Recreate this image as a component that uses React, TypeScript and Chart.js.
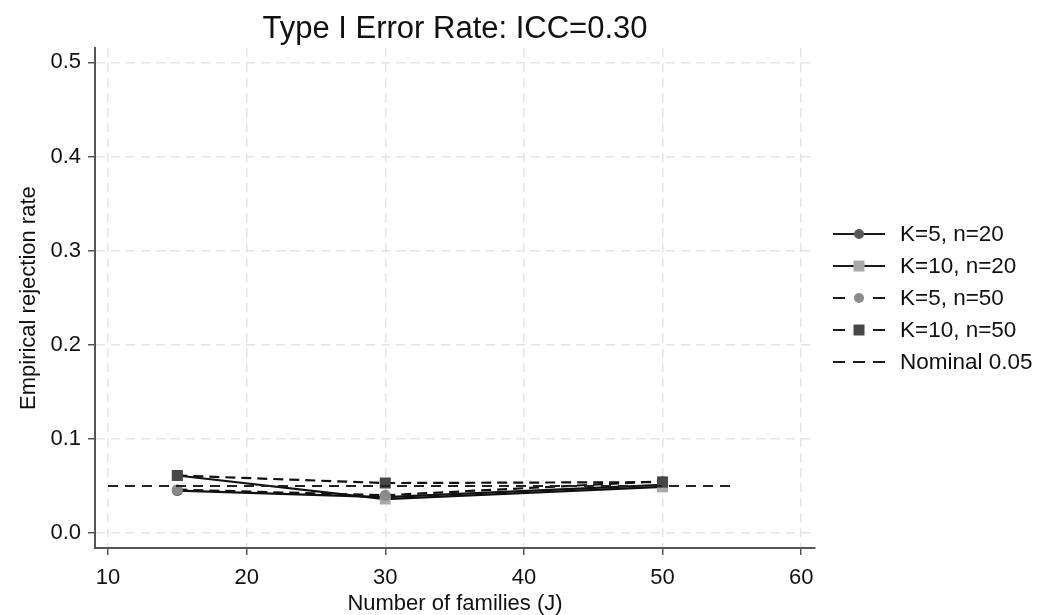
import React, { useEffect, useRef } from 'react';
import { Chart, registerables } from 'chart.js';

Chart.register(...registerables);

const FONT = '"Liberation Sans", Arial, Helvetica, sans-serif';

// ---- Data ----
const xValues = [15, 30, 50];
const seriesLabels = ['K=5, n=20', 'K=10, n=20', 'K=5, n=50', 'K=10, n=50'];
const k5n20 = [0.045, 0.038, 0.051];
const k10n20 = [0.061, 0.036, 0.049];
const k5n50 = [0.046, 0.040, 0.055];
const k10n50 = [0.061, 0.053, 0.054];
const nominalX = [10, 55];
const nominalValue = 0.05;
const nominalLabel = 'Nominal 0.05';
const xTicks = [10, 20, 30, 40, 50, 60];
const yTicks = [0, 0.1, 0.2, 0.3, 0.4, 0.5];
const titleText = 'Type I Error Rate: ICC=0.30';
const xTitle = 'Number of families (J)';
const yTitle = 'Empirical rejection rate';

const seriesValues = [k5n20, k10n20, k5n50, k10n50];
const seriesStyles = [
  { marker: 'circle', color: '#5a5a5a', dashed: false },
  { marker: 'rect', color: '#a8a8a8', dashed: false },
  { marker: 'circle', color: '#8a8a8a', dashed: true },
  { marker: 'rect', color: '#474747', dashed: true },
];

const legendPlugin = {
  id: 'customLegend',
  afterDraw(chart: any) {
    const ctx = chart.ctx as CanvasRenderingContext2D;
    const x0 = 833, x1 = 885, xm = 859, tx = 900;
    const y0 = 234, step = 32;
    ctx.save();
    ctx.font = `22.5px ${FONT}`;
    ctx.textBaseline = 'middle';
    ctx.textAlign = 'left';
    const rows = seriesLabels.length + 1;
    for (let i = 0; i < rows; i++) {
      const y = y0 + i * step;
      ctx.strokeStyle = '#1a1a1a';
      ctx.lineWidth = 2;
      ctx.setLineDash([]);
      ctx.beginPath();
      if (i < seriesLabels.length) {
        const st = seriesStyles[i];
        if (st.dashed) {
          ctx.moveTo(x0, y); ctx.lineTo(x0 + 12, y);
          ctx.moveTo(x1 - 12, y); ctx.lineTo(x1, y);
        } else {
          ctx.moveTo(x0, y); ctx.lineTo(x1, y);
        }
        ctx.stroke();
        ctx.fillStyle = st.color;
        ctx.beginPath();
        if (st.marker === 'circle') {
          ctx.arc(xm, y, 5, 0, Math.PI * 2);
        } else {
          ctx.rect(xm - 5.5, y - 5.5, 11, 11);
        }
        ctx.fill();
        ctx.fillStyle = '#111';
        ctx.fillText(seriesLabels[i], tx, y + 1);
      } else {
        ctx.moveTo(x0, y); ctx.lineTo(x0 + 12, y);
        ctx.moveTo(x0 + 20, y); ctx.lineTo(x0 + 32, y);
        ctx.moveTo(x1 - 12, y); ctx.lineTo(x1, y);
        ctx.stroke();
        ctx.fillStyle = '#111';
        ctx.fillText(nominalLabel, tx, y + 1);
      }
    }
    ctx.restore();
  },
};

export default function App() {
  const canvasRef = useRef<HTMLCanvasElement | null>(null);

  useEffect(() => {
    const canvas = canvasRef.current;
    if (!canvas) return;
    const datasets: any[] = seriesValues.map((vals, i) => ({
      label: seriesLabels[i],
      data: xValues.map((x, j) => ({ x, y: vals[j] })),
      borderColor: '#111111',
      borderWidth: 2.2,
      borderDash: seriesStyles[i].dashed ? [10, 6] : [],
      pointStyle: seriesStyles[i].marker,
      pointRadius: seriesStyles[i].marker === 'rect' ? 7.8 : 5.5,
      pointBackgroundColor: seriesStyles[i].color,
      pointBorderColor: seriesStyles[i].color,
      pointBorderWidth: 0,
      tension: 0,
      fill: false,
      order: 4 - i,
    }));
    datasets.push({
      label: nominalLabel,
      data: nominalX.map((x) => ({ x, y: nominalValue })),
      borderColor: '#222222',
      borderWidth: 2,
      borderDash: [10, 7],
      pointRadius: 0,
      fill: false,
      order: 0,
    });

    const chart = new Chart(canvas, {
      type: 'line',
      data: { datasets },
      plugins: [legendPlugin],
      options: {
        animation: false,
        responsive: false,
        devicePixelRatio: 1,
        layout: { padding: { left: 0, right: 222, top: 0, bottom: 0 } },
        plugins: {
          legend: { display: false },
          tooltip: { enabled: false },
          title: {
            display: true,
            text: titleText,
            fullSize: false,
            color: '#111',
            font: { family: FONT, size: 31, weight: 'normal', lineHeight: 1.2 },
            padding: { top: 11, bottom: 0 },
          },
        },
        scales: {
          x: {
            type: 'linear',
            position: 'bottom',
            min: 9.06,
            max: 61.0,
            afterBuildTicks: (scale: any) => {
              scale.ticks = xTicks.map((v) => ({ value: v }));
            },
            afterFit: (scale: any) => {
              scale.height = 67;
            },
            ticks: {
              color: '#111',
              font: { family: FONT, size: 22 },
              padding: 10,
              maxRotation: 0,
              autoSkip: false,
              callback: (v: any) => String(v),
            },
            grid: {
              color: '#e4e4e4',
              lineWidth: 1.5,
              drawTicks: true,
              tickLength: 7,
              tickColor: '#555',
              tickWidth: 1.5,
            },
            border: { display: true, color: '#555', width: 2, dash: [9, 6] },
            title: {
              display: true,
              text: xTitle,
              color: '#111',
              font: { family: FONT, size: 22, lineHeight: 1.0 },
              padding: { top: 0, bottom: 0 },
            },
          },
          y: {
            type: 'linear',
            min: -0.016,
            max: 0.515,
            afterBuildTicks: (scale: any) => {
              scale.ticks = yTicks.map((v) => ({ value: v }));
            },
            afterFit: (scale: any) => {
              scale.width = 95;
            },
            ticks: {
              color: '#111',
              font: { family: FONT, size: 22 },
              padding: 7,
              autoSkip: false,
              callback: (v: any) => Number(v).toFixed(1),
            },
            grid: {
              color: '#e4e4e4',
              lineWidth: 1.5,
              drawTicks: true,
              tickLength: 7,
              tickColor: '#555',
              tickWidth: 1.5,
            },
            border: { display: true, color: '#555', width: 2, dash: [9, 6] },
            title: {
              display: true,
              text: yTitle,
              color: '#111',
              font: { family: FONT, size: 22 },
              padding: { top: 16, bottom: 0 },
            },
          },
        },
      } as any,
    });
    return () => chart.destroy();
  }, []);

  return (
    <div style={{ position: 'absolute', left: 0, top: 0, width: 1037, height: 615, background: '#fff' }}>
      <canvas ref={canvasRef} width={1037} height={615} style={{ display: 'block' }} />
    </div>
  );
}
